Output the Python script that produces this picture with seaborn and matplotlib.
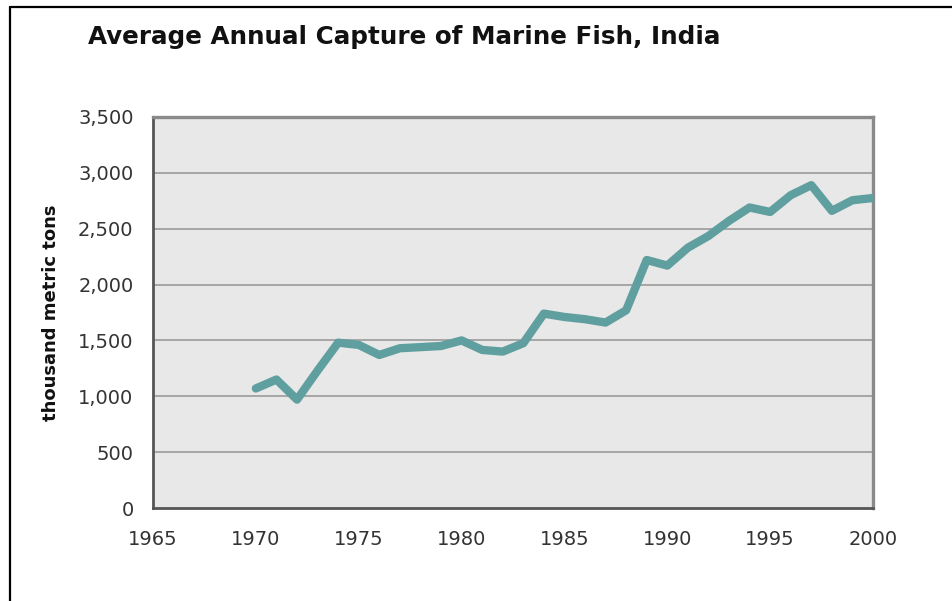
import pandas as pd
import seaborn as sns
import matplotlib.pyplot as plt
from matplotlib.lines import Line2D

years = list(range(1970, 2001))
capture = [1070, 1150, 970, 1230, 1480, 1460, 1370, 1430, 1440, 1450,
           1500, 1415, 1400, 1475, 1740, 1710, 1690, 1660, 1770, 2220,
           2170, 2330, 2435, 2570, 2690, 2650, 2800, 2890, 2660, 2755, 2775]
y_ticks = [0, 500, 1000, 1500, 2000, 2500, 3000, 3500]
x_ticks = [1965, 1970, 1975, 1980, 1985, 1990, 1995, 2000]

df = pd.DataFrame({"year": years, "capture": capture})

sns.set_style("white")
plt.rcParams["font.family"] = ["DejaVu Sans"]

fig = plt.figure(figsize=(9.52, 6.01), dpi=100)
ax = fig.add_axes([153 / 952, 93 / 601, 720 / 952, 391 / 601])
ax.set_facecolor("#e8e8e8")

# marco exterior (recortado a la derecha y abajo)
fig.add_artist(Line2D([9.5 / 952, 9.5 / 952], [0, 1 - 7 / 601], color="black", lw=1.6))
fig.add_artist(Line2D([9.5 / 952, 1], [1 - 7 / 601, 1 - 7 / 601], color="black", lw=1.6))

for v in y_ticks[1:-1]:
    ax.axhline(v, color="#9a9a9a", lw=1.2, zorder=1)

sns.lineplot(data=df, x="year", y="capture", ax=ax, color="#609f9f", lw=6,
             solid_capstyle="round", solid_joinstyle="round", zorder=3)

ax.set_xlim(1965, 2000)
ax.set_ylim(0, 3500)
ax.set_xticks(x_ticks)
ax.set_yticks(y_ticks)
ax.set_yticklabels([f"{v:,}" for v in y_ticks])
ax.tick_params(axis="x", length=0, pad=16, labelsize=14, labelcolor="#333333")
ax.tick_params(axis="y", length=0, pad=14, labelsize=14, labelcolor="#333333")

ax.set_xlabel("")
ax.set_ylabel("thousand metric tons", fontsize=13, fontweight="bold", color="#111111", labelpad=13)

for side in ["top", "right"]:
    ax.spines[side].set_color("#8a8a8a")
    ax.spines[side].set_linewidth(2.4)
for side in ["left", "bottom"]:
    ax.spines[side].set_color("#555555")
    ax.spines[side].set_linewidth(2.0)

fig.text(88 / 952, 1 - 37 / 601, "Average Annual Capture of Marine Fish, India",
         fontsize=17.7, fontweight="bold", color="#111111", va="center", ha="left")

fig.savefig("out.png", dpi=100)
